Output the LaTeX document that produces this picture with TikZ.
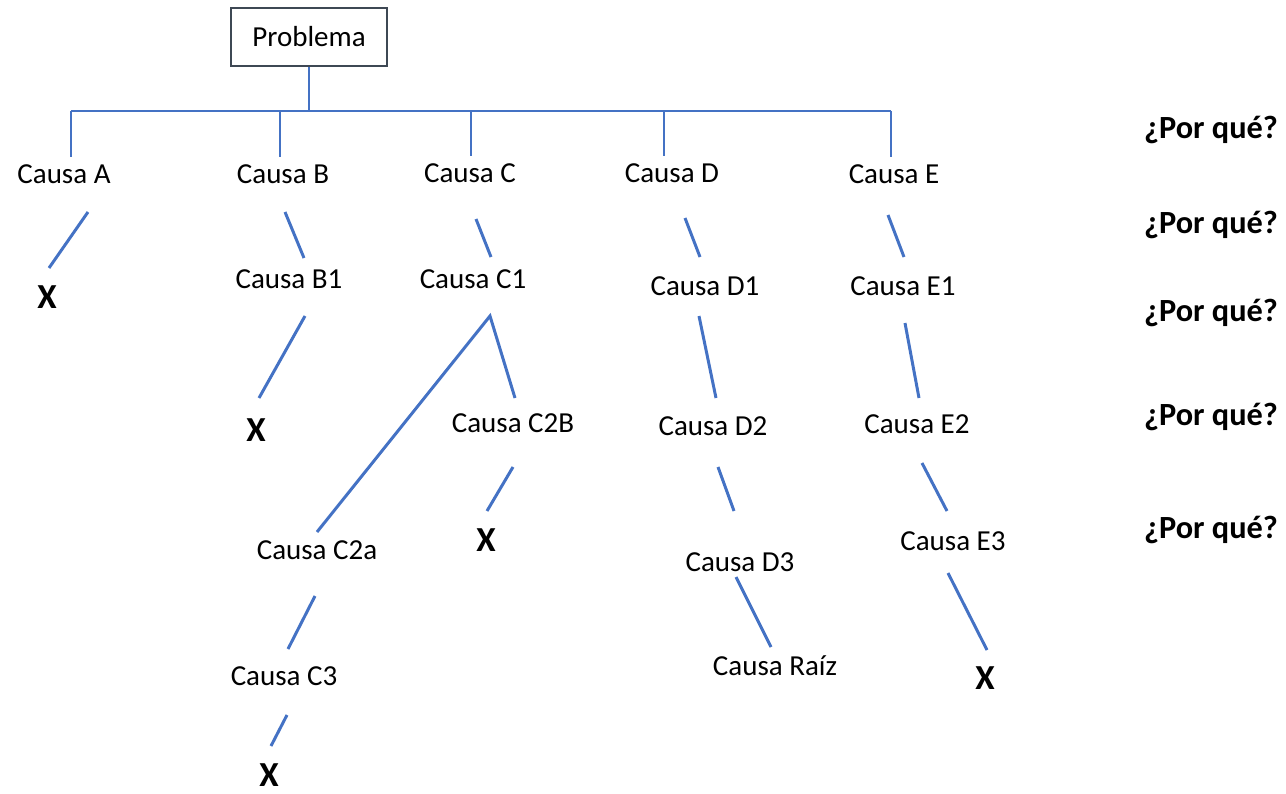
\documentclass[tikz,border=0pt]{standalone}
\usepackage{fontspec}
\setmainfont{Carlito}
\definecolor{linkblue}{HTML}{4472C4}
\definecolor{boxgray}{HTML}{3E4854}

\begin{document}
\begin{tikzpicture}[x=0.02cm, y=-0.02cm,
  link/.style={line width=1.7pt, draw=linkblue},
  cause/.style={inner xsep=2pt, inner ysep=4.2pt, font=\fontsize{16.5}{20}\selectfont},
  xmark/.style={inner sep=0pt, font=\fontsize{20}{24}\selectfont\bfseries},
  why/.style={font=\fontsize{18.4}{22}\selectfont\bfseries}]
\useasboundingbox (0,0) rectangle (1286,794);

\node [draw=boxgray, line width=1.3pt, minimum width=3.12cm, minimum height=1.16cm, font=\fontsize{16.5}{20}\selectfont] (root) at (309,37) {Problema};

\node [cause] (A) at (64,174) {Causa A};
\node [cause] (B) at (283,174) {Causa B};
\node [cause] (C) at (470,173) {Causa C};
\node [cause] (D) at (672,173) {Causa D};
\node [cause] (E) at (894,174) {Causa E};

\node [cause] (B1) at (289,279) {Causa B1};
\node [cause] (C1) at (473,279) {Causa C1};
\node [cause] (D1) at (705,286) {Causa D1};
\node [cause] (E1) at (903,286) {Causa E1};

\node [cause] (C2B) at (513,423) {Causa C2B};
\node [cause] (D2) at (713,426) {Causa D2};
\node [cause] (E2) at (917,424) {Causa E2};

\node [cause] (C2a) at (317,550) {Causa C2a};
\node [cause] (D3) at (740,562) {Causa D3};
\node [cause] (E3) at (953,541) {Causa E3};

\node [cause] (C3) at (284,676) {Causa C3};
\node [cause] (Raiz) at (775,666) {Causa Raíz};

\node [xmark] (xA) at (47,297) {X};
\node [xmark] (xB) at (256,430) {X};
\node [xmark] (xC2B) at (486,540) {X};
\node [xmark] (xC3) at (269,775) {X};
\node [xmark] (xE) at (985,678) {X};

\node [why] (w1) at (1211,130) {¿Por qué?};
\node [why] (w2) at (1211,225) {¿Por qué?};
\node [why] (w3) at (1211,313) {¿Por qué?};
\node [why] (w4) at (1211,417) {¿Por qué?};
\node [why] (w5) at (1211,530) {¿Por qué?};

\coordinate (tA) at (71,111);
\coordinate (tB) at (280,111);
\coordinate (tC) at (471,111);
\coordinate (tD) at (664,111);
\coordinate (tE) at (891,111);
\draw [link] (root.south) -- (root.south |- tA);
\draw [link] (tA) -- (tE);
\draw [link] (tA) -- (tA |- A.north);
\draw [link] (tB) -- (tB |- B.north);
\draw [link] (tC) -- (tC |- C.north);
\draw [link] (tD) -- (tD |- D.north);
\draw [link] (tE) -- (tE |- E.north);

\draw [link] ([shift={(24,38)}]A.center) -- ([shift={(2,-29)}]xA.center);
\draw [link] ([shift={(2,38)}]B.center) -- ([shift={(15,-21)}]B1.center);
\draw [link] ([shift={(6,46)}]C.center) -- ([shift={(18,-22)}]C1.center);
\draw [link] ([shift={(13,45)}]D.center) -- ([shift={(-5,-29)}]D1.center);
\draw [link] ([shift={(-6,41)}]E.center) -- ([shift={(1,-29)}]E1.center);

\draw [link] ([shift={(16,37)}]B1.center) -- ([shift={(3,-32)}]xB.center);
\coordinate (fork) at ([shift={(17,37)}]C1.center);
\draw [link] ([shift={(0,-18)}]C2a.center) -- (fork) -- ([shift={(2,-25)}]C2B.center);
\draw [link] ([shift={(0,44)}]C2B.center) -- ([shift={(1,-29)}]xC2B.center);
\draw [link] ([shift={(-2,46)}]C2a.center) -- ([shift={(4,-27)}]C3.center);
\draw [link] ([shift={(3,39)}]C3.center) -- ([shift={(2,-29)}]xC3.center);

\draw [link] ([shift={(-6,30)}]D1.center) -- ([shift={(3,-28)}]D2.center);
\draw [link] ([shift={(5,41)}]D2.center) -- ([shift={(-6,-51)}]D3.center);
\draw [link] ([shift={(-4,15)}]D3.center) -- ([shift={(-4,-19)}]Raiz.center);

\draw [link] ([shift={(2,37)}]E1.center) -- ([shift={(2,-26)}]E2.center);
\draw [link] ([shift={(5,39)}]E2.center) -- ([shift={(-6,-30)}]E3.center);
\draw [link] ([shift={(-5,32)}]E3.center) -- ([shift={(2,-28)}]xE.center);

\end{tikzpicture}
\end{document}
